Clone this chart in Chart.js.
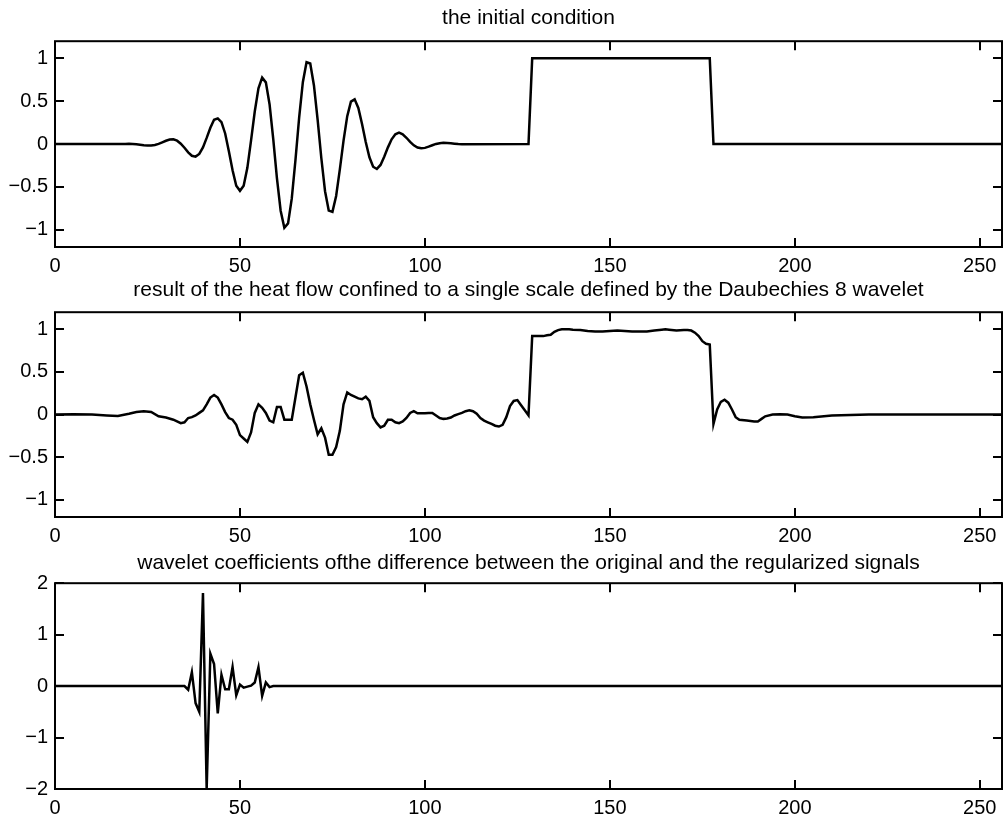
<!DOCTYPE html>
<html>
<head>
<meta charset="utf-8">
<title>wavelet heat flow</title>
<script src="https://cdn.jsdelivr.net/npm/chart.js@4.4.1/dist/chart.umd.min.js"></script>
<style>
    html, body { margin: 0; padding: 0; background: #fff; }
    body { width: 1005px; height: 825px; position: relative; overflow: hidden; }
    canvas { position: absolute; left: 0; }
</style>
</head>
<body>
<canvas id="initChart" width="1005" height="280" style="top:0px"></canvas>
<canvas id="heatChart" width="1005" height="278" style="top:272px"></canvas>
<canvas id="coefChart" width="1005" height="281" style="top:544px"></canvas>
<script>
// ============ Data ============
const xTickValues = [0, 50, 100, 150, 200, 250];
const yTicksUnit = [-1, -0.5, 0, 0.5, 1];
const yTicksCoef = [-2, -1, 0, 1, 2];

const titles = [
    'the initial condition',
    'result of the heat flow confined to a single scale defined by the Daubechies 8 wavelet',
    'wavelet coefficients ofthe difference between the original and the regularized signals'
];

// initial condition: oscillating packet + box
const initX = [0, 19, 20, 21, 22, 23, 24, 25, 26, 27, 28, 29, 30, 31, 32, 33, 34, 35, 36, 37, 38, 39,
    40, 41, 42, 43, 44, 45, 46, 47, 48, 49, 50, 51, 52, 53, 54, 55, 56, 57, 58, 59,
    60, 61, 62, 63, 64, 65, 66, 67, 68, 69, 70, 71, 72, 73, 74, 75, 76, 77, 78, 79,
    80, 81, 82, 83, 84, 85, 86, 87, 88, 89, 90, 91, 92, 93, 94, 95, 96, 97, 98, 99,
    100, 101, 102, 103, 104, 105, 106, 107, 108, 109, 110, 128, 129, 177, 178, 256];
const initY = [0, 0, 0.004, 0.002, -0.002, -0.007, -0.013, -0.017, -0.017, -0.011, 0.002, 0.020, 0.039, 0.053, 0.055, 0.040, 0.005, -0.043, -0.096, -0.136, -0.146, -0.115,
    -0.038, 0.072, 0.190, 0.283, 0.300, 0.255, 0.124, -0.082, -0.306, -0.486, -0.545, -0.485, -0.277, 0.044, 0.380, 0.650, 0.775, 0.720, 0.465, 0.057,
    -0.400, -0.777, -0.975, -0.925, -0.636, -0.187, 0.308, 0.722, 0.955, 0.940, 0.684, 0.282, -0.165, -0.550, -0.775, -0.790, -0.605, -0.295, 0.041, 0.326,
    0.495, 0.522, 0.421, 0.235, 0.025, -0.154, -0.264, -0.290, -0.243, -0.148, -0.038, 0.056, 0.115, 0.133, 0.115, 0.074, 0.027, -0.014, -0.040, -0.049,
    -0.044, -0.030, -0.013, 0.002, 0.011, 0.015, 0.014, 0.010, 0.005, 0.000, -0.003, 0, 1, 1, 0, 0];

// after the heat flow
const heatX = [0, 5, 10, 14, 17, 20, 22, 24, 26, 28, 30, 32, 34, 35, 36, 37, 38, 39,
    40, 41, 42, 43, 44, 45, 46, 47, 48, 49, 50, 51, 52, 53, 54, 55, 56, 57, 58, 59,
    60, 61, 62, 63, 64, 65, 66, 67, 68, 69, 70, 71, 72, 73, 74, 75, 76, 77, 78, 79,
    80, 81, 82, 83, 84, 85, 86, 87, 88, 89, 90, 91, 92, 93, 94, 95, 96, 97, 98, 99,
    100, 101, 102, 103, 104, 105, 106, 107, 108, 109, 110, 111, 112, 113, 114, 115, 116, 117, 118, 119,
    120, 121, 122, 123, 124, 125, 126, 127, 128, 129, 130, 131, 132, 133, 134, 135, 136, 137, 138, 139,
    140, 142, 144, 146, 148, 150, 152, 154, 156, 158, 160, 162, 164, 165, 166, 168, 170, 171, 172, 173,
    174, 175, 176, 177, 178, 179, 180, 181, 182, 183, 184, 185, 187, 189, 190, 191, 192, 194, 196, 198,
    200, 202, 205, 210, 220, 256];
const heatY = [0, 0.005, 0, -0.01, -0.015, 0.01, 0.03, 0.04, 0.03, -0.02, -0.035, -0.06, -0.10, -0.09, -0.04, -0.03, -0.01, 0.02,
    0.05, 0.12, 0.20, 0.23, 0.20, 0.12, 0.03, -0.04, -0.06, -0.12, -0.24, -0.28, -0.32, -0.21, 0.02, 0.12, 0.08, 0.02, -0.07, -0.09,
    0.09, 0.09, -0.06, -0.06, -0.06, 0.20, 0.46, 0.49, 0.33, 0.12, -0.06, -0.23, -0.16, -0.27, -0.47, -0.47, -0.38, -0.19, 0.12, 0.26,
    0.23, 0.21, 0.19, 0.18, 0.21, 0.16, -0.03, -0.10, -0.15, -0.13, -0.06, -0.06, -0.09, -0.10, -0.08, -0.04, 0.02, 0.04, 0.015, 0.015,
    0.015, 0.02, 0.02, -0.01, -0.04, -0.05, -0.045, -0.035, -0.01, 0.005, 0.02, 0.04, 0.05, 0.04, 0.01, -0.04, -0.07, -0.09, -0.11, -0.13,
    -0.14, -0.12, -0.03, 0.10, 0.16, 0.17, 0.11, 0.05, -0.01, 0.92, 0.92, 0.92, 0.92, 0.93, 0.935, 0.97, 0.99, 1.0, 1.0, 1.0,
    0.995, 0.99, 0.98, 0.975, 0.975, 0.98, 0.985, 0.98, 0.975, 0.975, 0.975, 0.985, 0.995, 1.0, 0.995, 0.985, 0.99, 0.99, 0.985, 0.96,
    0.92, 0.86, 0.83, 0.82, -0.11, 0.06, 0.15, 0.175, 0.14, 0.06, -0.03, -0.06, -0.07, -0.08, -0.08, -0.05, -0.02, 0.0, 0.005, 0.0,
    -0.02, -0.035, -0.03, -0.01, 0, 0];

// wavelet coefficients of the difference
const coefX = [0, 35, 36, 37, 38, 39, 40, 41, 42, 43, 44, 45, 46, 47, 48, 49, 50, 51, 52, 53, 54, 55, 56, 57, 58, 59, 256];
const coefY = [0, 0, -0.07, 0.27, -0.33, -0.50, 1.81, -2.0, 0.63, 0.43, -0.53, 0.22, -0.06, -0.06, 0.37, -0.18, 0.03, -0.03, -0.01, 0.01, 0.07, 0.37, -0.19, 0.07, -0.02, 0, 0];

// ============ Shared look ============
Chart.defaults.font.family = "'Liberation Sans', Arial, sans-serif";
Chart.defaults.font.size = 20;
Chart.defaults.color = '#000';

// box around the plot with inward tick marks on all four sides
const frameTicks = {
    id: 'frameTicks',
    afterDatasetsDraw(chart) {
        const { ctx, chartArea: a, scales: { x, y } } = chart;
        const len = 9;
        ctx.save();
        ctx.strokeStyle = '#000';
        ctx.lineWidth = 2;
        ctx.strokeRect(a.left, a.top, a.right - a.left, a.bottom - a.top);
        ctx.beginPath();
        x.ticks.forEach((t) => {
            const px = Math.round(x.getPixelForValue(t.value));
            ctx.moveTo(px, a.bottom); ctx.lineTo(px, a.bottom - len);
            ctx.moveTo(px, a.top); ctx.lineTo(px, a.top + len);
        });
        y.ticks.forEach((t) => {
            const py = Math.round(y.getPixelForValue(t.value));
            ctx.moveTo(a.left, py); ctx.lineTo(a.left + len, py);
            ctx.moveTo(a.right, py); ctx.lineTo(a.right - len, py);
        });
        ctx.stroke();
        ctx.restore();
    }
};

const minus = (v) => String(v).replace('-', '\u2212');

function makePanel(id, xs, ys, title, yMin, yMax, yTicks, titlePad, xHeight) {
    const points = xs.map((x, i) => ({ x: x, y: ys[i] }));
    return new Chart(document.getElementById(id), {
        type: 'line',
        data: {
            datasets: [{
                data: points,
                borderColor: '#000',
                borderWidth: 2.5,
                pointRadius: 0,
                tension: 0,
                fill: false
            }]
        },
        options: {
            responsive: false,
            animation: false,
            events: [],
            layout: { padding: { left: 0, right: 3, top: 0, bottom: 0 } },
            plugins: {
                legend: { display: false },
                tooltip: { enabled: false },
                title: {
                    display: true,
                    fullSize: false,
                    text: title,
                    color: '#000',
                    font: { size: 21, weight: 'normal' },
                    padding: titlePad
                }
            },
            scales: {
                x: {
                    type: 'linear',
                    min: 0,
                    max: 256,
                    grid: { display: false, drawTicks: false },
                    border: { display: false },
                    afterBuildTicks: (s) => { s.ticks = xTickValues.map((v) => ({ value: v })); },
                    afterFit: (s) => { s.height = xHeight; },
                    ticks: { padding: 7, maxRotation: 0, autoSkip: false, color: '#000', callback: minus }
                },
                y: {
                    min: yMin,
                    max: yMax,
                    grid: { display: false, drawTicks: false },
                    border: { display: false },
                    afterBuildTicks: (s) => { s.ticks = yTicks.map((v) => ({ value: v })); },
                    afterFit: (s) => { s.width = 55; },
                    ticks: { padding: 7, autoSkip: false, color: '#000', callback: minus }
                }
            }
        },
        plugins: [frameTicks]
    });
}

// ============ The three panels ============
makePanel('initChart', initX, initY, titles[0], -1.2, 1.2, yTicksUnit, { top: 6, bottom: 10 }, 33);
makePanel('heatChart', heatX, heatY, titles[1], -1.2, 1.2, yTicksUnit, { top: 6, bottom: 9 }, 33);
makePanel('coefChart', coefX, coefY, titles[2], -2, 2, yTicksCoef, { top: 7, bottom: 7 }, 36);
</script>
</body>
</html>
